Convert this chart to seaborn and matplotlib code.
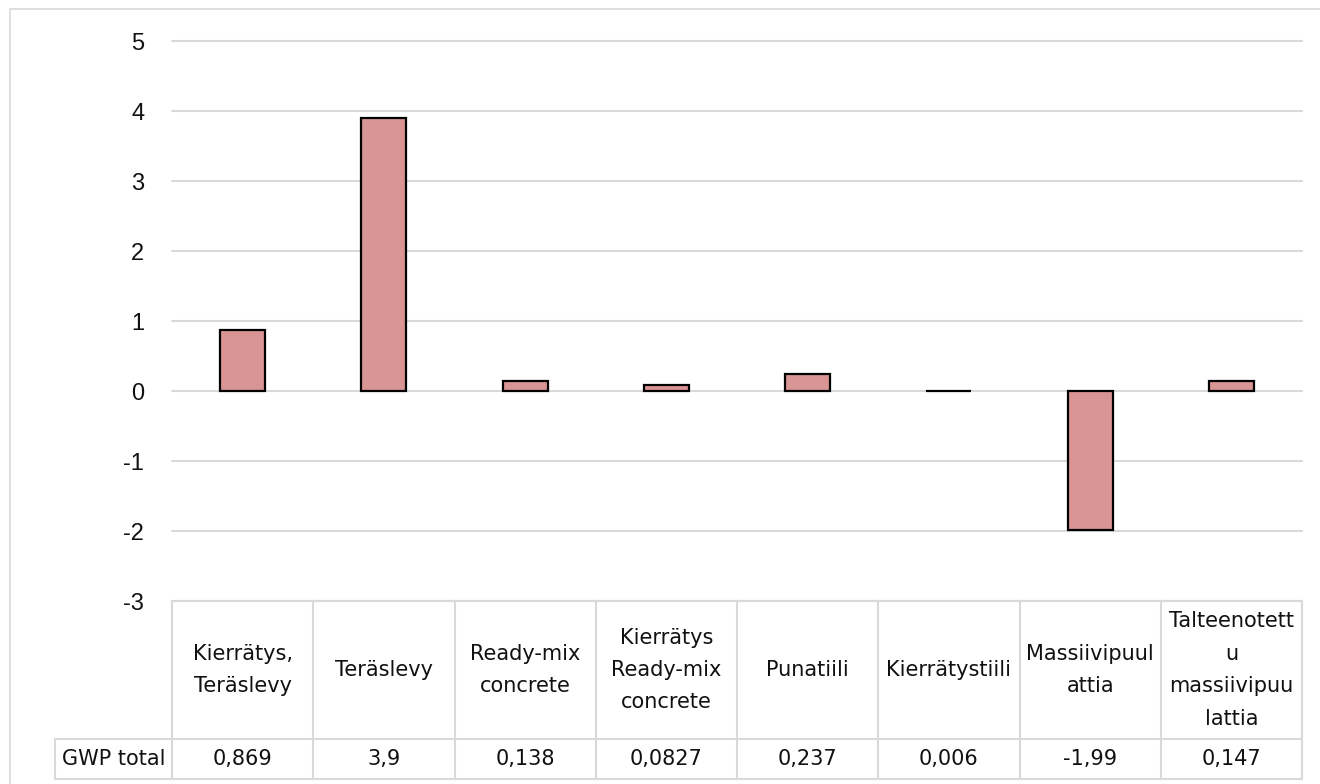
import matplotlib
matplotlib.use("Agg")
import matplotlib.pyplot as plt
from matplotlib.patches import Rectangle
import seaborn as sns
import pandas as pd

categories = ["Kierrätys,\nTeräslevy", "Teräslevy", "Ready-mix\nconcrete",
              "Kierrätys\nReady-mix\nconcrete", "Punatiili", "Kierrätystiili",
              "Massiivipuul\nattia", "Talteenotett\nu\nmassiivipuu\nlattia"]
values = [0.869, 3.9, 0.138, 0.0827, 0.237, 0.006, -1.99, 0.147]
value_labels = ["0,869", "3,9", "0,138", "0,0827", "0,237", "0,006", "-1,99", "0,147"]
row_header = "GWP total"
yticks = [-3, -2, -1, 0, 1, 2, 3, 4, 5]

sns.set_theme(style="white")
plt.rcParams["font.family"] = ["DejaVu Sans"]

W, H = 1320, 784
fig = plt.figure(figsize=(W / 100, H / 100), dpi=100)
L, R, T, B = 172, 1302, 41, 601
ax = fig.add_axes([L / W, 1 - B / H, (R - L) / W, (B - T) / H])

df = pd.DataFrame({"cat": categories, "val": values})
sns.barplot(data=df, x="cat", y="val", ax=ax, color="#D99594", saturation=1,
            width=0.32, edgecolor="black", linewidth=1.6, zorder=3)

grid_c = "#D9D9D9"
ax.set_ylim(-3, 5)
ax.set_xlim(-0.5, len(categories) - 0.5)
ax.set_yticks(yticks)
ax.set_yticklabels([str(t) for t in yticks], fontsize=17, color="#111111",
                   family=["Liberation Sans"])
ax.tick_params(axis="y", length=0, pad=20)
ax.set_xticks([])
ax.set_xlabel("")
ax.set_ylabel("")
for s in ax.spines.values():
    s.set_visible(False)
ax.yaxis.grid(True, color=grid_c, linewidth=1.5, zorder=0)
for gl in ax.get_ygridlines():
    gl.set_clip_on(False)
ax.set_axisbelow(True)

# data table below axes
ph = B - T
def yf(px):
    return 1 - (px - T) / ph

y_top, y_mid, y_bot = yf(601), yf(739), yf(779)
col_w = (R - L) / len(categories)
x_hdr = -0.5 + (55 - L) / col_w
trans = ax.get_xaxis_transform()
lkw = dict(color=grid_c, linewidth=1.5, transform=trans, clip_on=False)
ax.plot([-0.5, len(categories) - 0.5], [y_top, y_top], **lkw)
ax.plot([x_hdr, len(categories) - 0.5], [y_mid, y_mid], **lkw)
ax.plot([x_hdr, len(categories) - 0.5], [y_bot, y_bot], **lkw)
for i in range(len(categories) + 1):
    ax.plot([i - 0.5, i - 0.5], [y_top, y_bot], **lkw)
ax.plot([x_hdr, x_hdr], [y_mid, y_bot], **lkw)

fs = 15
for i, (c, v) in enumerate(zip(categories, value_labels)):
    ax.text(i, (y_top + y_mid) / 2, c, transform=trans, ha="center", va="center",
            fontsize=fs, linespacing=1.78, color="#111111", clip_on=False)
    ax.text(i, (y_mid + y_bot) / 2, v, transform=trans, ha="center", va="center",
            fontsize=fs, color="#111111", clip_on=False)
ax.text((x_hdr - 0.5) / 2, (y_mid + y_bot) / 2, row_header, transform=trans,
        ha="center", va="center", fontsize=fs, color="#111111", clip_on=False)

fig.patches.append(Rectangle((10 / W, -0.05), 1.05, 1 - 9 / H + 0.05,
                             transform=fig.transFigure, fill=False,
                             edgecolor=grid_c, linewidth=1.2))

fig.savefig("out.png", dpi=100)
